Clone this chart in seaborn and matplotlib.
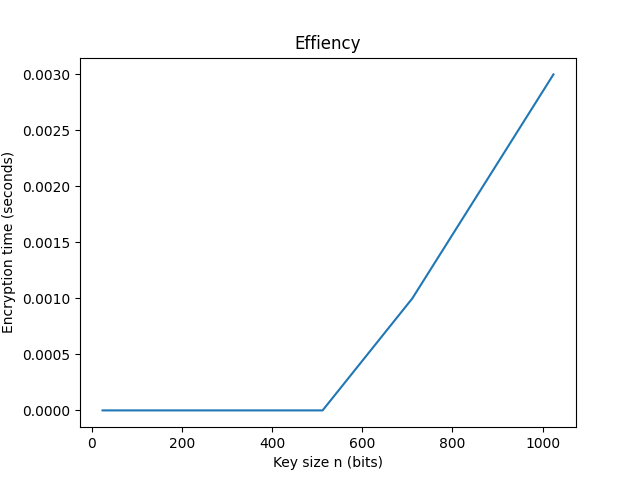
import matplotlib
matplotlib.use("Agg")
import matplotlib.pyplot as plt
import seaborn as sns

key_sizes = [24, 64, 128, 256, 512, 711, 1024]
enc_times = [0.0, 0.0, 0.0, 0.0, 0.0, 0.001, 0.003]

fig, ax = plt.subplots(figsize=(6.4, 4.8), dpi=100)
sns.lineplot(x=key_sizes, y=enc_times, ax=ax, color="#1f77b4")
ax.set_title("Effiency")
ax.set_xlabel("Key size n (bits)")
ax.set_ylabel("Encryption time (seconds)")
fig.savefig("out.png")
